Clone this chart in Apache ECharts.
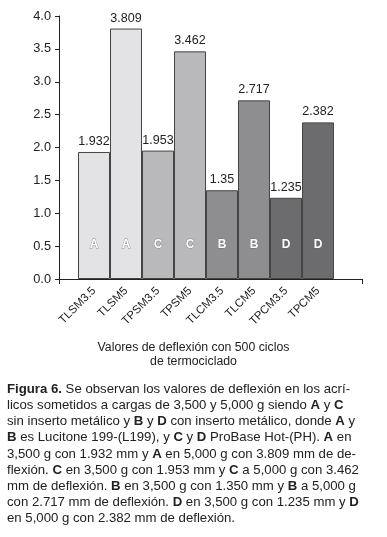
<!DOCTYPE html>
<html><head><meta charset="utf-8">
<script src="https://cdn.jsdelivr.net/npm/echarts@6/dist/echarts.min.js"></script>
<style>html,body{margin:0;padding:0;background:#fff}#c{width:387px;height:537px}</style>
</head><body><div id="c"></div>
<script>
var categories = ['TLSM3.5','TLSM5','TPSM3.5','TPSM5','TLCM3.5','TLCM5','TPCM3.5','TPCM5'];
var values = [1.932, 3.809, 1.953, 3.462, 1.35, 2.717, 1.235, 2.382];
var groupLetters = ['A','A','C','C','B','B','D','D'];
var barColors = ['#e3e3e5','#e3e3e5','#b9b9bb','#b9b9bb','#8e8e90','#8e8e90','#6c6c6e','#6c6c6e'];
var yTicks = [0, 0.5, 1.0, 1.5, 2.0, 2.5, 3.0, 3.5, 4.0];
var axisTitle = 'Valores de deflexión con 500 ciclos\nde termociclado';
var captionLines = [
  '{b|Figura 6.} Se observan los valores de deflexión en los acrí-',
  'licos sometidos a cargas de 3,500 y 5,000 g siendo {b|A} y {b|C}',
  'sin inserto metálico y {b|B} y {b|D} con inserto metálico, donde {b|A} y',
  '{b|B} es Lucitone 199-(L199), y {b|C} y {b|D} ProBase Hot-(PH). {b|A} en',
  '3,500 g con 1.932 mm y {b|A} en 5,000 g con 3.809 mm de de-',
  'flexión. {b|C} en 3,500 g con 1.953 mm y {b|C} a 5,000 g con 3.462',
  'mm de deflexión. {b|B} en 3,500 g con 1.350 mm y {b|B} a 5,000 g',
  'con 2.717 mm de deflexión. {b|D} en 3,500 g con 1.235 mm y {b|D}',
  'en 5,000 g con 2.382 mm de deflexión.'
];

var FONT = '"Liberation Sans", Arial, Helvetica, sans-serif';
var chart = echarts.init(document.getElementById('c'), null, {renderer:'canvas'});
chart.setOption({
  backgroundColor: '#fff',
  animation: false,
  textStyle: {fontFamily: FONT},
  title: {
    text: axisTitle, left: 'center', top: 336,
    textStyle: {fontSize: 12.3, fontWeight: 'normal', color: '#222', lineHeight: 14, fontFamily: FONT}
  },
  grid: [
    {left: 78, right: 53, top: 16, bottom: 258},
    {left: 59, right: 25, top: 16, bottom: 258}
  ],
  xAxis: [
    {type: 'category', gridIndex: 0, data: categories,
     axisLine: {show: false}, axisTick: {show: false},
     axisLabel: {rotate: 45, fontSize: 11.5, color: '#222', margin: 10, interval: 0, fontFamily: FONT}},
    {type: 'value', gridIndex: 1, min: 0, max: 1, interval: 1,
     axisLine: {show: true, lineStyle: {color: '#222', width: 1}},
     axisTick: {show: true, length: 5, lineStyle: {color: '#222'}},
     axisLabel: {show: false}, splitLine: {show: false}}
  ],
  yAxis: [
    {type: 'value', gridIndex: 0, min: 0, max: 4, interval: 0.5, offset: 19,
     axisLine: {show: true, lineStyle: {color: '#222', width: 1}},
     axisTick: {show: true, length: 4, lineStyle: {color: '#222'}},
     splitLine: {show: false},
     axisLabel: {fontSize: 12.8, color: '#222', margin: 8, fontFamily: FONT,
       formatter: function(v){ return yTicks.indexOf(v) >= 0 ? v.toFixed(1) : ''; }}},
    {type: 'value', gridIndex: 1, min: 0, max: 4, show: false}
  ],
  series: [
    {type: 'bar', xAxisIndex: 0, yAxisIndex: 0, barCategoryGap: '0%', barGap: '-100%',
     data: values.map(function(v, i){ return {value: v, itemStyle: {color: barColors[i]}}; }),
     itemStyle: {borderColor: '#444', borderWidth: 1},
     label: {show: true, position: 'top', distance: 4, fontSize: 12.5, color: '#222', fontFamily: FONT,
       formatter: function(p){ return String(p.value); }}},
    {type: 'bar', xAxisIndex: 0, yAxisIndex: 0, barCategoryGap: '0%', barGap: '-100%',
     data: values, silent: true,
     itemStyle: {color: 'rgba(0,0,0,0)'},
     label: {show: true, position: 'insideBottom', distance: 28, fontSize: 12, fontWeight: 'bold',
       color: '#fff', textBorderColor: 'rgba(90,90,90,0.6)', textBorderWidth: 0.8, fontFamily: FONT,
       formatter: function(p){ return groupLetters[p.dataIndex]; }}}
  ],
  graphic: [
    {type: 'text', left: 7, top: 381,
     style: {text: captionLines.join('\n'), font: '13.2px ' + FONT, fill: '#222', lineHeight: 16.2,
       rich: {b: {fontWeight: 'bold', fontSize: 13.2, fontFamily: FONT, fill: '#222', lineHeight: 16.2}}}}
  ]
});
</script></body></html>
